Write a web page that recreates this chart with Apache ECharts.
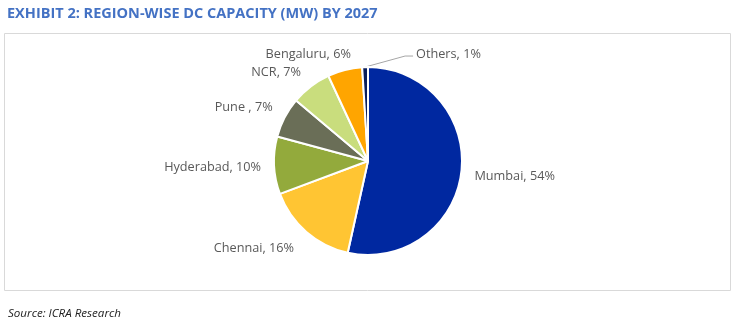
<!DOCTYPE html>
<html><head><meta charset="utf-8">
<script src="https://cdn.jsdelivr.net/npm/echarts@6/dist/echarts.min.js"></script>
<style>html,body{margin:0;padding:0;background:#fff}#c{width:738px;height:322px}</style>
</head><body><div id="c"></div>
<script>
const categories = ['Mumbai', 'Chennai', 'Hyderabad', 'Pune ', 'NCR', 'Bengaluru', 'Others'];
const shares = [54, 16, 10, 7, 7, 6, 1];
const colors = ['#0028A0', '#FFC533', '#93AA3C', '#6A6E57', '#C9DD7D', '#FFA500', '#0B1F5C'];
const titleText = 'EXHIBIT 2: REGION-WISE DC CAPACITY (MW) BY 2027';
const sourceText = 'Source: ICRA Research';
// small label nudges [dx, dy] to mimic the reference's label placement
const labelNudge = [[0, 4], [-2, 10], [0, 2], [0, -6], [0, -8], [13, -8], [0, 0]];

const chart = echarts.init(document.getElementById('c'), null, {renderer: 'canvas'});
chart.setOption({
  animation: false,
  title: [{
    text: titleText, left: 2, top: 1,
    textStyle: {fontFamily: 'Open Sans', fontWeight: 'bold', fontSize: 14.5, color: '#4472C4'}
  }, {
    text: sourceText, left: 3, top: 303,
    textStyle: {fontFamily: 'Open Sans', fontStyle: 'italic', fontWeight: 'normal', fontSize: 11.6, color: '#222'}
  }],
  graphic: [{
    type: 'rect', shape: {x: 4.5, y: 33.5, width: 726, height: 257},
    style: {fill: 'none', stroke: '#d9d9d9', lineWidth: 1}, silent: true
  }],
  series: [{
    type: 'pie',
    center: [368, 161],
    radius: [0, 94],
    startAngle: 90,
    clockwise: true,
    avoidLabelOverlap: false,
    itemStyle: {borderColor: '#fff', borderWidth: 2},
    label: {
      show: true, position: 'outside', formatter: '{b}, {c}%',
      fontFamily: 'Open Sans', fontSize: 12.7, color: '#595959'
    },
    labelLine: {show: false, length: 8, length2: 0},
    labelLayout: function (p) {
      if (p.dataIndex === 6 && p.labelLinePoints) {
        const s = p.labelLinePoints[0];
        return {
          x: s[0] + 51, y: s[1] - 13, align: 'left', verticalAlign: 'middle',
          labelLinePoints: [[s[0], s[1]], [s[0] + 40, s[1] - 11], [s[0] + 48, s[1] - 11]]
        };
      }
      const n = labelNudge[p.dataIndex];
      return {dx: n[0], dy: n[1]};
    },
    data: categories.map((n, i) => ({
      name: n, value: shares[i], itemStyle: {color: colors[i]},
      labelLine: i === 6 ? {show: true, length: 6, length2: 6, lineStyle: {color: '#a6a6a6', width: 1}} : undefined
    }))
  }]
});
</script></body></html>
